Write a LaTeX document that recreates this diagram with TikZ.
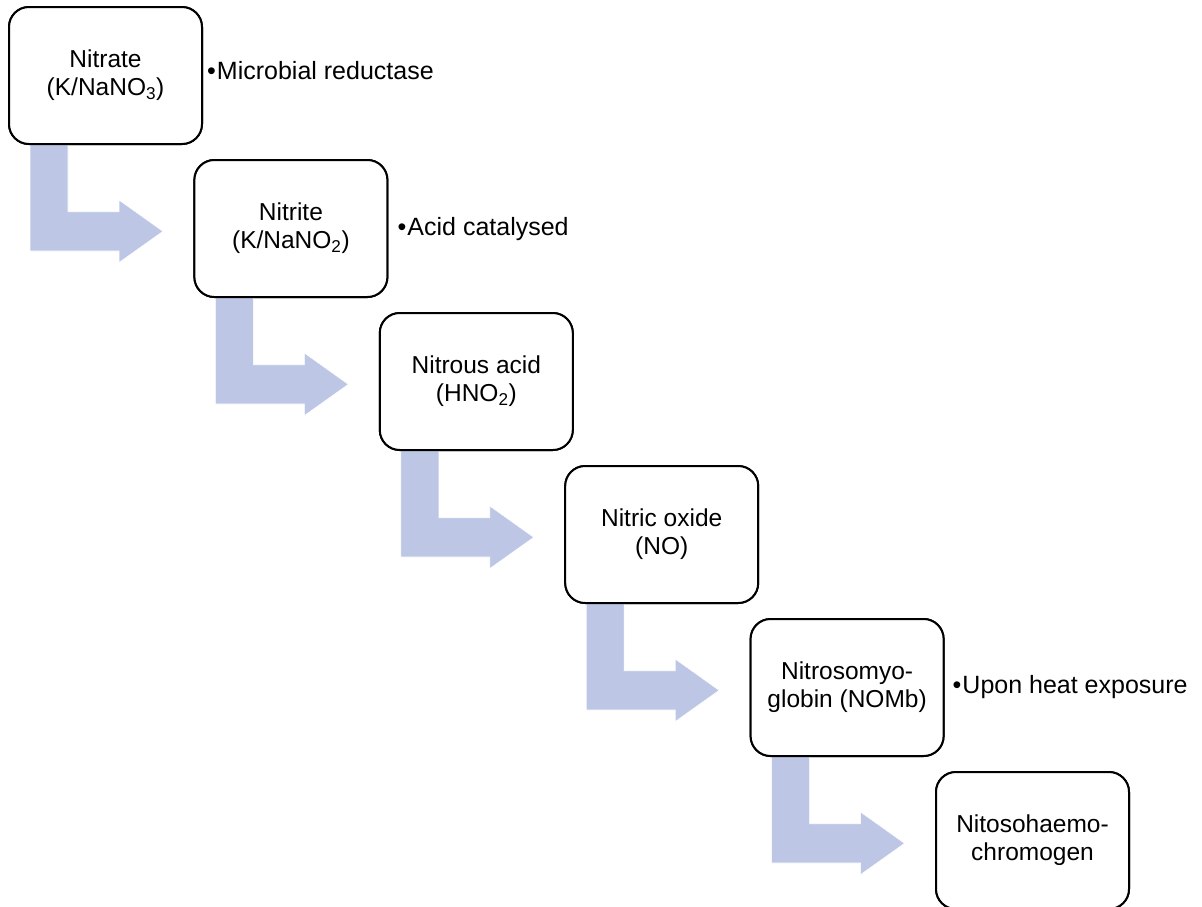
\documentclass[tikz,border=0pt]{standalone}
\usepackage{fontspec}
\setmainfont{Liberation Sans}
\definecolor{arrowblue}{RGB}{189,199,229}
\begin{document}
\begin{tikzpicture}[x=1pt,y=-1pt,
  stagebox/.style={draw=black, fill=white, line width=2pt, rounded corners=20pt,
    minimum width=193pt, minimum height=137pt, align=center, inner sep=2pt,
    font=\fontsize{24.5}{28}\selectfont, text=black},
  notetext/.style={anchor=base west, inner sep=0pt, font=\fontsize{25}{28}\selectfont, text=black},
  bentarrow/.style={fill=arrowblue, draw=white, line width=0.6pt}
]
\useasboundingbox (0,0) rectangle (1202,906);

% stage boxes (named first so arrows can refer to them)
\path
  (105.5,75.5)  node[stagebox] (b1) {Nitrate\\(K/NaNO\textsubscript{3})}
  (290.9,228.5) node[stagebox] (b2) {Nitrite\\(K/NaNO\textsubscript{2})}
  (476.3,381.5) node[stagebox] (b3) {Nitrous acid\\(HNO\textsubscript{2})}
  (661.7,534.5) node[stagebox] (b4) {Nitric oxide\\(NO)}
  (847.1,687.5) node[stagebox] (b5) {Nitrosomyo-\\globin (NOMb)}
  (1032.5,840.5) node[stagebox] (b6) {Nitosohaemo-\\chromogen};

% bent arrows drawn from each box's lower-left corner
\foreach \b in {b1,b2,b3,b4,b5}{
  \path[bentarrow, shift={(\b.south west)}]
    (22,-4) -- (60,-4) -- (60,66.7) -- (111,66.7) -- (111,55) -- (155,86.3)
    -- (111,117.6) -- (111,106) -- (22,106) -- cycle;
}

% redraw boxes on top of arrow shafts
\path
  (105.5,75.5)  node[stagebox] {Nitrate\\(K/NaNO\textsubscript{3})}
  (290.9,228.5) node[stagebox] {Nitrite\\(K/NaNO\textsubscript{2})}
  (476.3,381.5) node[stagebox] {Nitrous acid\\(HNO\textsubscript{2})}
  (661.7,534.5) node[stagebox] {Nitric oxide\\(NO)}
  (847.1,687.5) node[stagebox] {Nitrosomyo-\\globin (NOMb)}
  (1032.5,840.5) node[stagebox] {Nitosohaemo-\\chromogen};

% side notes
\node[notetext] (n1) at (207,79) {\textbullet\kern1pt Microbial reductase};
\node[notetext] (n2) at (397.5,235) {\textbullet\kern1pt Acid catalysed};
\node[notetext] (n5) at (952.5,693) {\textbullet\kern1pt Upon heat exposure};
\end{tikzpicture}
\end{document}
